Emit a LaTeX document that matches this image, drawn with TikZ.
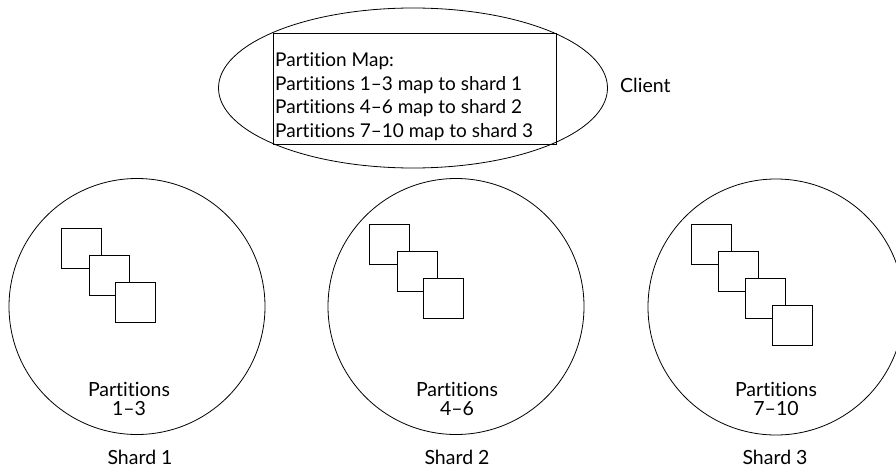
\documentclass[tikz,border=0pt]{standalone}
\usepackage{fontspec}
\setmainfont{Lato}[Ligatures={NoCommon}]
\usetikzlibrary{shapes.geometric}
\begin{document}
\begin{tikzpicture}[x=1pt,y=-1pt,
  lbl/.style={inner sep=0pt,font=\fontsize{19.5}{22}\selectfont,anchor=base},
  maplbl/.style={inner sep=0pt,font=\fontsize{19}{22}\selectfont,anchor=base west},
  shardc/.style={draw,circle,minimum size=256pt,inner sep=0pt,line width=0.8pt},
  part/.style={draw,fill=white,minimum size=40pt,inner sep=0pt,line width=0.9pt},
]
\useasboundingbox (0,0) rectangle (896,468);
\begin{scope}
\clip (0,0) rectangle (896,468);
% client
\node[draw,ellipse,minimum width=389pt,minimum height=160pt,inner sep=0pt,line width=0.8pt] (client) at (413,88) {};
\node[draw,rectangle,minimum width=283pt,minimum height=111pt,inner sep=0pt,line width=0.9pt] (map) at (414.5,88.5) {};
\node[maplbl] (m1) at (275,67) {Partition Map:};
\node[maplbl] (m2) at (275,90.3) {Partitions 1–3 map to shard 1};
\node[maplbl] (m3) at (275,113.6) {Partitions 4–6 map to shard 2};
\node[maplbl] (m4) at (275,137) {Partitions 7–10 map to shard 3};
\node[lbl,anchor=base west] (clientlbl) at (620,93) {Client};
% shards
\node[shardc] (s1) at (137,306.5) {};
\node[shardc] (s2) at (456,306.5) {};
\node[shardc] (s3) at (776,307) {};
% partitions shard 1
\node[part] (p11) at (81.5,248) {};
\node[part] (p12) at (109,275) {};
\node[part] (p13) at (135.5,302) {};
% shard 2
\node[part] (p21) at (389.5,244) {};
\node[part] (p22) at (417,271) {};
\node[part] (p23) at (443.5,298) {};
% shard 3
\node[part] (p31) at (711.5,244.5) {};
\node[part] (p32) at (738,271.5) {};
\node[part] (p33) at (765.5,298) {};
\node[part] (p34) at (792,325.5) {};
% labels
\node[lbl] (t1a) at (129,396) {Partitions};
\node[lbl] (t1b) at (129,415) {1–3};
\node[lbl] (n1) at (140,464) {Shard 1};
\node[lbl] (t2a) at (457,396) {Partitions};
\node[lbl] (t2b) at (457,415) {4–6};
\node[lbl] (n2) at (457,464) {Shard 2};
\node[lbl] (t3a) at (776,396) {Partitions};
\node[lbl] (t3b) at (776,415) {7–10};
\node[lbl] (n3) at (775,464) {Shard 3};
\end{scope}
\end{tikzpicture}
\end{document}
